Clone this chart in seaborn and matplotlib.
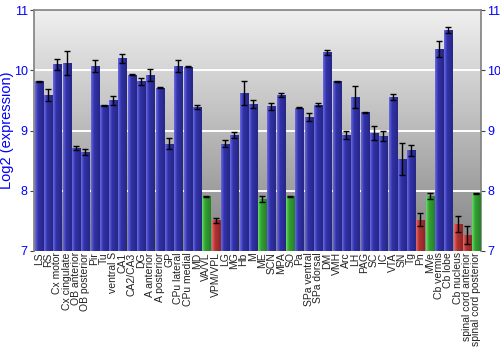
import numpy as np
import pandas as pd
import matplotlib
matplotlib.use("Agg")
import matplotlib.pyplot as plt
import matplotlib.colors as mcolors
import seaborn as sns

regions = ["LS", "RS", "Cx motor", "Cx cingulate", "OB anterior", "OB posterior",
           "Pir", "Tu", "ventral S", "CA1", "CA2/CA3", "DG", "A anterior",
           "A posterior", "GP", "CPu lateral", "CPu medial", "MD", "VA/VL",
           "VPM/VPL", "LG", "MG", "Hb", "M", "ME", "SCN", "MPA", "SO", "Pa",
           "SPa ventral", "SPa dorsal", "DM", "VMH", "Arc", "LH", "PAG", "SC",
           "IC", "VTA", "SN", "Tg", "Pn", "MVe", "Cb vermis", "Cb lobe",
           "Cb nucleus", "spinal cord anterior", "spinal cord posterior"]
expression = [9.82, 9.59, 10.10, 10.12, 8.71, 8.65, 10.08, 9.42, 9.50, 10.20,
              9.93, 9.82, 9.92, 9.71, 8.78, 10.08, 10.06, 9.39, 7.91, 7.51,
              8.78, 8.92, 9.62, 9.44, 7.86, 9.40, 9.59, 7.91, 9.38, 9.22,
              9.43, 10.30, 9.82, 8.93, 9.56, 9.30, 8.96, 8.91, 9.56, 8.52,
              8.67, 7.52, 7.91, 10.36, 10.67, 7.45, 7.26, 7.96]
errors = [0.01, 0.10, 0.09, 0.20, 0.04, 0.05, 0.10, 0.01, 0.07, 0.07,
          0.01, 0.06, 0.10, 0.01, 0.09, 0.10, 0.01, 0.04, 0.01, 0.04,
          0.06, 0.05, 0.20, 0.07, 0.055, 0.055, 0.03, 0.01, 0.01, 0.065,
          0.03, 0.04, 0.01, 0.065, 0.18, 0.01, 0.12, 0.09, 0.055, 0.265,
          0.09, 0.11, 0.055, 0.13, 0.045, 0.13, 0.15, 0.01]
group = ["mid"] * 48
for i in (18, 24, 27, 42, 47):
    group[i] = "high"
for i in (19, 41, 45, 46):
    group[i] = "low"

palette = {"mid": "#3232aa", "high": "#32a232", "low": "#b23232"}

df = pd.DataFrame({"region": regions, "expression": expression,
                   "err": errors, "group": group})

plt.rcParams["font.family"] = ["Liberation Sans", "DejaVu Sans"]

fig = plt.figure(figsize=(5, 3.5), dpi=100)
ax = fig.add_axes([0.068, 0.283, 0.894, 0.688])

ymin, ymax = 7, 11

# vertical grey gradient behind the bars
bg = np.linspace(0, 1, 256).reshape(-1, 1)
bg_cmap = mcolors.LinearSegmentedColormap.from_list("bg", ["#838383", "#f0f0f0"])
ax.imshow(bg, cmap=bg_cmap, aspect="auto", origin="lower",
          extent=[-0.5, len(regions) - 0.5, ymin, ymax], zorder=0)

sns.barplot(data=df, x="region", y="expression", hue="group", palette=palette,
            dodge=False, legend=False, width=0.86, ax=ax, errorbar=None,
            saturation=1, zorder=2, edgecolor="none")

# horizontal shading inside each bar
shade = np.linspace(0, 1, 64).reshape(1, -1)
for patch in ax.patches:
    x0, y0 = patch.get_x(), patch.get_y()
    w, h = patch.get_width(), patch.get_height()
    if h == 0:
        continue
    base = np.array(mcolors.to_rgb(patch.get_facecolor()))
    light = np.clip(base + 0.22, 0, 1)
    dark = base * 0.78
    cm = mcolors.LinearSegmentedColormap.from_list(
        "bar", [(0, light), (0.35, base), (1, dark)])
    im = ax.imshow(shade, cmap=cm, aspect="auto",
                   extent=[x0, x0 + w, ymin, y0 + h], zorder=3)
    im.set_clip_path(patch)

xs = np.arange(len(regions))
ax.errorbar(xs, df["expression"], yerr=df["err"], fmt="none",
            ecolor="black", elinewidth=1, capsize=2.2, capthick=1, zorder=5)

for yv in (8, 9, 10):
    ax.axhline(yv, color="white", lw=1.4, zorder=1)

ax.set_ylim(ymin, ymax)
ax.set_xlim(-0.5, len(regions) - 0.5)
ax.set_yticks([7, 8, 9, 10, 11])
ax.tick_params(axis="y", colors="#444444", labelcolor="#0000ff", labelsize=9,
               length=3, pad=1.5, left=True, right=True,
               labelleft=True, labelright=True)
ax.tick_params(axis="x", length=0, labelsize=7.5, pad=1, labelcolor="#222222")
plt.setp(ax.get_xticklabels(), rotation=90)
ax.set_xlabel("")
ax.set_ylabel("Log2 (expression)", color="#0000ff", fontsize=10.5)
ax.yaxis.set_label_coords(-0.045, 0.5)

for side in ("left", "right", "top"):
    ax.spines[side].set_color("#808080")
    ax.spines[side].set_linewidth(1.2)
ax.spines["bottom"].set_visible(False)

fig.savefig("out.png", dpi=100)
